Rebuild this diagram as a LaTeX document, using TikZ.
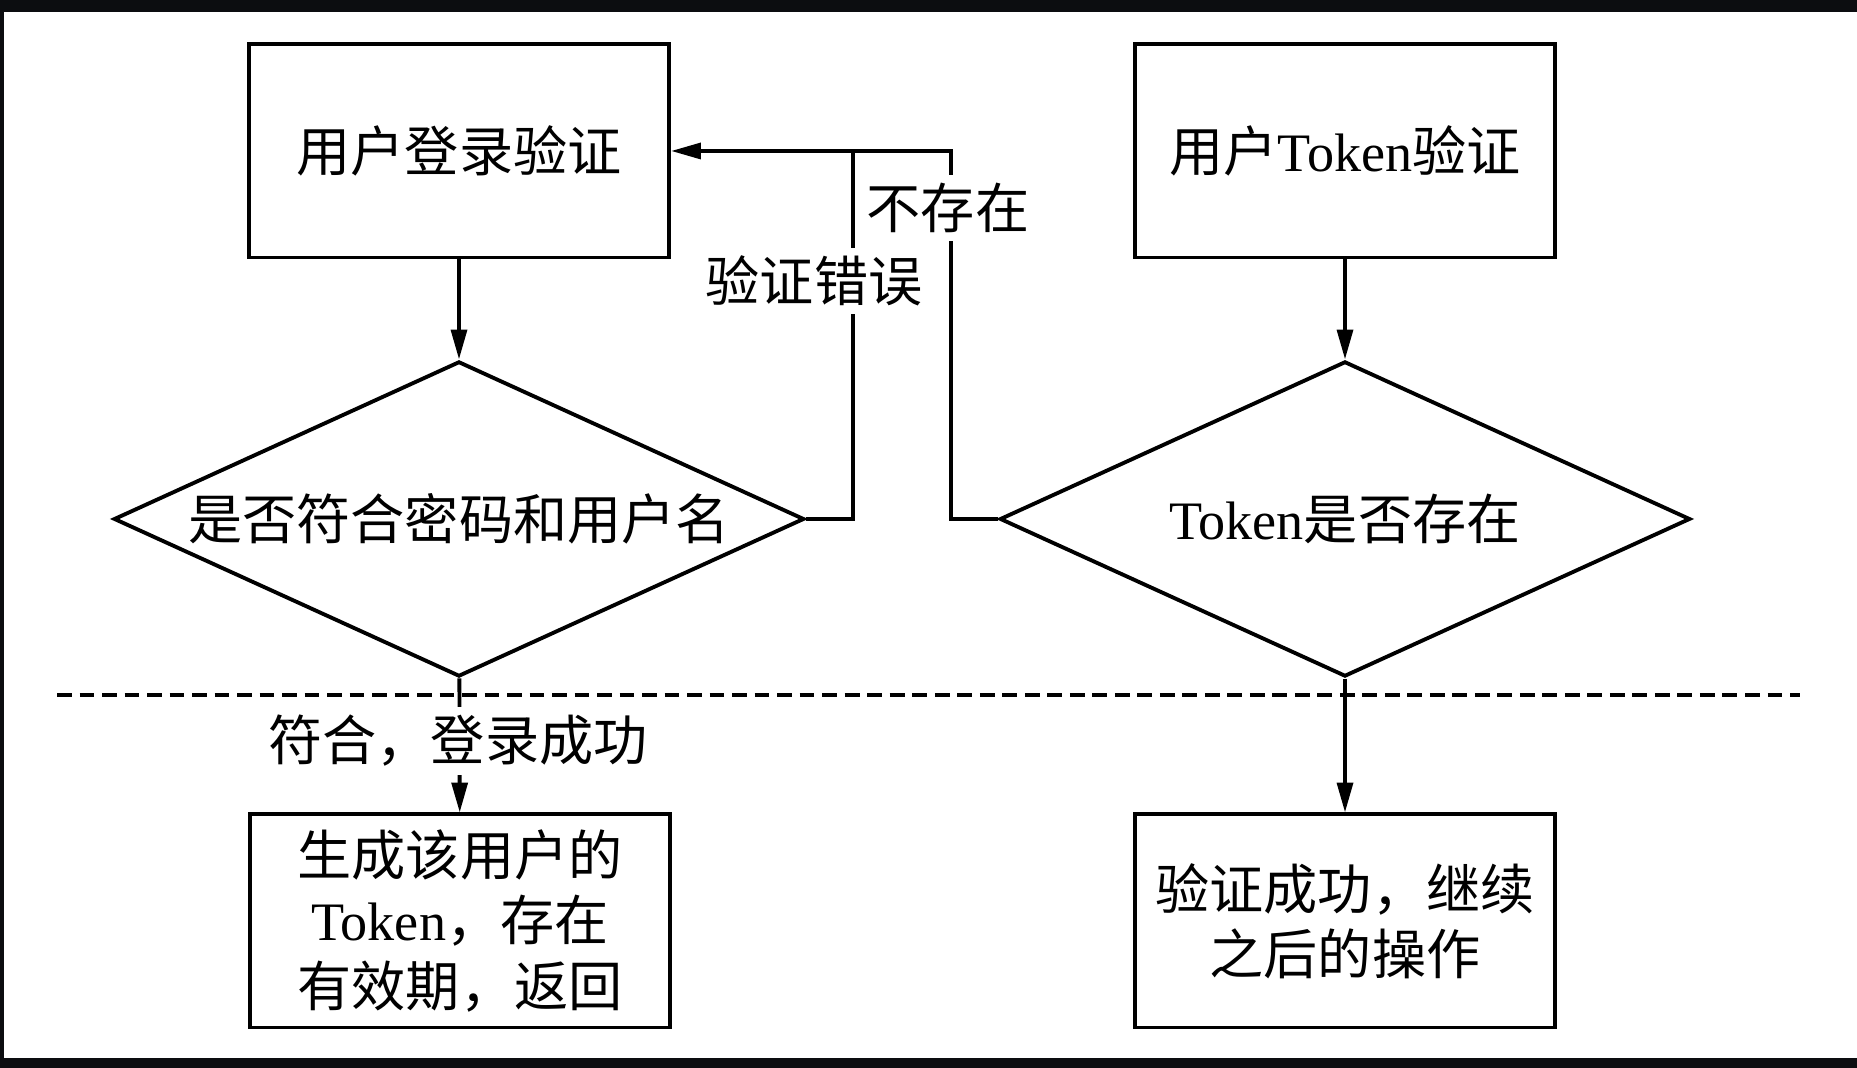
\documentclass[tikz,border=0pt]{standalone}
\usepackage{fontspec}
\usepackage{xcolor}
\setmainfont{Liberation Serif}
\newfontfamily\cjk{Noto Sans CJK SC}
\usetikzlibrary{shapes.geometric,arrows.meta}
\definecolor{frame}{HTML}{0C0D10}
\tikzset{chart text/.style={font=\fontsize{15.4pt}{18.5pt}\selectfont},
  stepbox/.style={draw,line width=1.1pt,minimum width=4.2cm,minimum height=2.13cm,align=center,inner sep=0pt},
  choice/.style={draw,diamond,aspect=2.19,line width=1.1pt,minimum width=6.9cm,minimum height=3.15cm,inner sep=0pt},
  flow/.style={line width=1.1pt,-{Triangle[length=8.5pt,width=4.5pt]}},
  link/.style={line width=1.1pt},
  edge label/.style={fill=white,inner sep=2.3pt}}

\begin{document}
\begin{tikzpicture}[x=0.01cm,y=-0.01cm,chart text]
  \fill[frame] (0,0) rectangle (1857,1068);
  \fill[white] (4,12) rectangle (1857,1058);

  \node[stepbox] (login) at (459,151) {{\cjk 用户登录验证}};
  \node[stepbox] (tokencheck) at (1345,151) {{\cjk 用户}Token{\cjk 验证}};
  \node[choice] (match) at (459,519) {{\cjk 是否符合密码和用户名}};
  \node[choice] (exists) at (1345,519) {Token{\cjk 是否存在}};
  \node[stepbox] (issue) at (460,921) {{\cjk 生成该用户的}\\Token{\cjk ，存在}\\{\cjk 有效期，返回}};
  \node[stepbox] (goon) at (1345,921) {{\cjk 验证成功，继续}\\{\cjk 之后的操作}};

  \draw[line width=1.1pt,dash pattern=on 4.2pt off 2.2pt] (57,695) -- (1800,695);

  \coordinate (join) at (853,151);
  \draw[flow] (login) -- (match);
  \draw[flow] (tokencheck) -- (exists);
  \draw[flow] (match) -- (issue);
  \draw[flow] (exists) -- (goon);
  \draw[flow] (exists.west) -- ++(-47,0) |- (login.east);
  \draw[link] (match.east) -| (join);

  \node[edge label] (wrong) at (814,281) {{\cjk 验证错误}};
  \node[edge label] (missing) at (948,208) {{\cjk 不存在}};
  \node[edge label] (passed) at (458,741) {{\cjk 符合，登录成功}};
\end{tikzpicture}
\end{document}
